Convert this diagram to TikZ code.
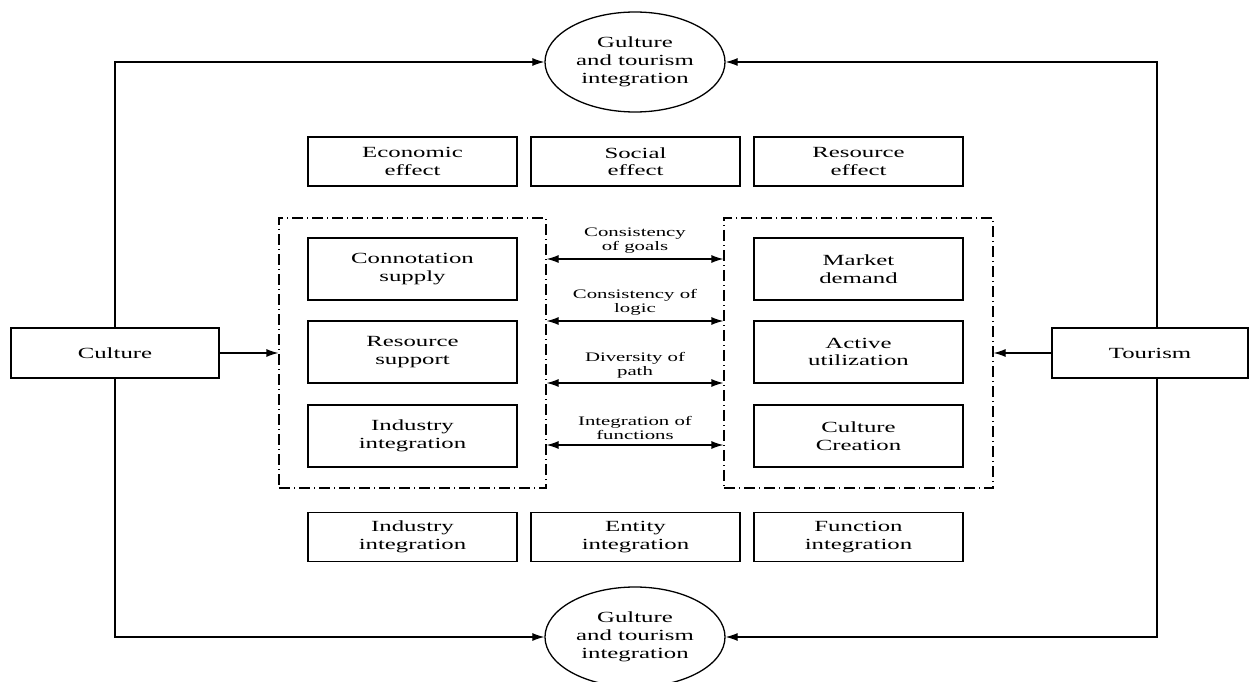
\documentclass[tikz,border=0pt]{standalone}
\usepackage{fontspec}
\setmainfont{Liberation Serif}[FakeStretch=1.6]
\usetikzlibrary{shapes.geometric,arrows.meta}
\begin{document}
\begin{tikzpicture}[x=1pt,y=-1pt,
  box/.style={draw,line width=1.3pt,rectangle,inner sep=0pt,minimum width=209pt,minimum height=49pt,align=center,font=\fontsize{15.5}{17.5}\selectfont},
  ibox/.style={box,minimum height=62pt},
  oval/.style={draw,line width=1.3pt,ellipse,inner sep=0pt,minimum width=180pt,minimum height=100pt,align=center,font=\fontsize{15.5}{18}\selectfont},
  dbox/.style={draw,line width=1.2pt,dash pattern=on 11pt off 4pt on 1pt off 4pt,inner sep=0pt},
  arr/.style={line width=1.2pt,-{Latex[length=12pt,width=8pt]}},
  dbl/.style={line width=1.2pt,{Latex[length=12pt,width=8pt]}-{Latex[length=12pt,width=8pt]}},
  lab/.style={align=center,inner sep=0pt,font=\fontsize{13}{14}\selectfont}]
\useasboundingbox (0,0) rectangle (1251,682);
% ellipses
\node[oval] (top) at (635,62) {Gulture\\and tourism\\integration};
\node[oval] (bot) at (635,637) {Gulture\\and tourism\\integration};
% side boxes
\node[box,minimum width=208pt,minimum height=50pt] (culture) at (115,353) {Culture};
\node[box,minimum width=196pt,minimum height=50pt] (tourism) at (1150,353) {Tourism};
% top row
\node[box] (eco) at (412.5,161.5) {Economic\\effect};
\node[box] (soc) at (635.5,161.5) {Social\\effect};
\node[box] (res) at (858.5,161.5) {Resource\\effect};
% dash boxes
\node[dbox,minimum width=267pt,minimum height=270pt] (lbox) at (412.5,353) {};
\node[dbox,minimum width=269pt,minimum height=270pt] (rbox) at (858.5,353) {};
% inner boxes
\node[ibox] (con) at (412.5,269) {Connotation\\supply};
\node[ibox] (rsup) at (412.5,352) {Resource\\support};
\node[ibox] (ind) at (412.5,436) {Industry\\integration};
\node[ibox] (mkt) at (858.5,269) {Market\\demand};
\node[ibox] (act) at (858.5,352) {Active\\utilization};
\node[ibox] (cre) at (858.5,436) {Culture\\Creation};
% bottom row
\node[box] (indi) at (412.5,537) {Industry\\integration};
\node[box] (ent) at (635.5,537) {Entity\\integration};
\node[box] (fun) at (858.5,537) {Function\\integration};
% outer connectors
\draw[arr] (culture.north) |- (top.west);
\draw[arr] ([xshift=7pt]tourism.north) |- (top.east);
\draw[arr] (culture.south) |- (bot.west);
\draw[arr] ([xshift=7pt]tourism.south) |- (bot.east);
\draw[arr] (culture.east) -- (lbox.west);
\draw[arr] (tourism.west) -- (rbox.east);
% double arrows
\coordinate (y1) at (0,259);
\coordinate (y2) at (0,321);
\coordinate (y3) at (0,383);
\coordinate (y4) at (0,445);
\draw[dbl] (lbox.east |- y1) -- (rbox.west |- y1);
\draw[dbl] (lbox.east |- y2) -- (rbox.west |- y2);
\draw[dbl] (lbox.east |- y3) -- (rbox.west |- y3);
\draw[dbl] (lbox.east |- y4) -- (rbox.west |- y4);
\node[lab,anchor=south] (l1) at (635,254) {Consistency\\of goals};
\node[lab,anchor=south] (l2) at (635,316) {Consistency of\\logic};
\node[lab,anchor=south] (l3) at (635,378) {Diversity of\\path};
\node[lab,anchor=south] (l4) at (635,440) {Integration of\\functions};
\end{tikzpicture}
\end{document}
